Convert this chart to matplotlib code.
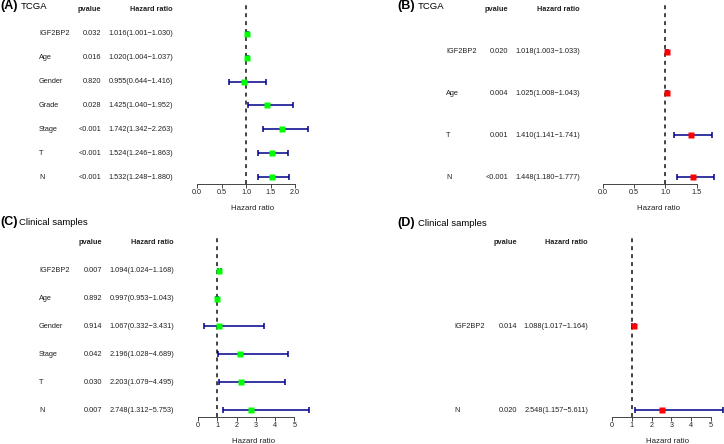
import matplotlib
matplotlib.use('Agg')
import matplotlib.pyplot as plt
import numpy as np
from matplotlib.transforms import blended_transform_factory
from matplotlib.ticker import FormatStrFormatter

plt.rcParams['font.family'] = ['Liberation Sans', 'DejaVu Sans']

# (A) TCGA, multivariate set 1
a_labels = ['IGF2BP2', 'Age', 'Gender', 'Grade', 'Stage', 'T', 'N']
a_pvalue = ['0.032', '0.016', '0.820', '0.028', '<0.001', '<0.001', '<0.001']
a_hr = [1.016, 1.020, 0.955, 1.425, 1.742, 1.524, 1.532]
a_low = [1.001, 1.004, 0.644, 1.040, 1.342, 1.246, 1.248]
a_high = [1.030, 1.037, 1.416, 1.952, 2.263, 1.863, 1.880]

# (B) TCGA
b_labels = ['IGF2BP2', 'Age', 'T', 'N']
b_pvalue = ['0.020', '0.004', '0.001', '<0.001']
b_hr = [1.018, 1.025, 1.410, 1.448]
b_low = [1.003, 1.008, 1.141, 1.180]
b_high = [1.033, 1.043, 1.741, 1.777]

# (C) Clinical samples
c_labels = ['IGF2BP2', 'Age', 'Gender', 'Stage', 'T', 'N']
c_pvalue = ['0.007', '0.892', '0.914', '0.042', '0.030', '0.007']
c_hr = [1.094, 0.997, 1.067, 2.196, 2.203, 2.748]
c_low = [1.024, 0.953, 0.332, 1.028, 1.079, 1.312]
c_high = [1.168, 1.043, 3.431, 4.689, 4.495, 5.753]

# (D) Clinical samples
d_labels = ['IGF2BP2', 'N']
d_pvalue = ['0.014', '0.020']
d_hr = [1.088, 2.548]
d_low = [1.017, 1.157]
d_high = [1.164, 5.611]

W, H = 724, 444


def fx(x):
    return x / W


def fy(y):
    return 1 - y / H


# layout in pixels of the reference
panels = [
    dict(tag='(A)', name='TCGA', labels=a_labels, pv=a_pvalue, hr=a_hr, low=a_low, high=a_high,
         color='#00ff00', tx=0, nx=21, base=9, lab_x=39, p_x=101, hr_x=173,
         left=197, top=3, bottom=184, step=0.5, fmt='%.1f'),
    dict(tag='(B)', name='TCGA', labels=b_labels, pv=b_pvalue, hr=b_hr, low=b_low, high=b_high,
         color='#ff0000', tx=397, nx=418, base=9, lab_x=446, p_x=508, hr_x=580,
         left=603, top=3, bottom=184, step=0.5, fmt='%.1f'),
    dict(tag='(C)', name='Clinical samples', labels=c_labels, pv=c_pvalue, hr=c_hr, low=c_low, high=c_high,
         color='#00ff00', tx=0, nx=19, base=225, lab_x=39, p_x=102, hr_x=174,
         left=198, top=236, bottom=417, step=1, fmt='%d'),
    dict(tag='(D)', name='Clinical samples', labels=d_labels, pv=d_pvalue, hr=d_hr, low=d_low, high=d_high,
         color='#ff0000', tx=397, nx=418, base=226, lab_x=454, p_x=517, hr_x=588,
         left=612, top=236, bottom=417, step=1, fmt='%d'),
]

fig = plt.figure(figsize=(W / 100, H / 100), dpi=100)
plot_w = 111
axis_col = '#444444'

for p in panels:
    hr = np.array(p['hr'])
    low = np.array(p['low'])
    high = np.array(p['high'])
    n = len(hr)
    ys = np.arange(n, 0, -1)

    height = p['bottom'] - p['top']
    ax = fig.add_axes([fx(p['left']), fy(p['bottom']), plot_w / W, height / H])
    ax.patch.set_visible(False)
    ax.set_xlim(0, high.max())
    ax.set_ylim(1 - 0.04 * n, n + 1 + 0.04 * n)

    # reference line at HR = 1
    ax.axvline(1, color='#111111', lw=1.1, ls=(0, (2.6, 2.6)), zorder=1)
    ax.errorbar(hr, ys, xerr=[hr - low, high - hr], fmt='none', ecolor='#00008b',
                elinewidth=1.1, capsize=1.9, capthick=1.1, clip_on=False, zorder=2)
    ax.plot(hr, ys, 's', color=p['color'], ms=3.8, mec='none', clip_on=False, zorder=3)

    ticks = np.arange(0, high.max() + 1e-9, p['step'])
    ax.set_xticks(ticks)
    ax.xaxis.set_major_formatter(FormatStrFormatter(p['fmt']))
    ax.set_yticks([])
    for s in ['top', 'right', 'left']:
        ax.spines[s].set_visible(False)
    ax.spines['bottom'].set_bounds(0, ticks[-1])
    ax.spines['bottom'].set_color(axis_col)
    ax.spines['bottom'].set_linewidth(0.7)
    ax.tick_params(axis='x', length=2.9, width=0.7, color=axis_col,
                   labelsize=5.2, pad=1, labelcolor='#222222')
    ax.set_xlabel('Hazard ratio', fontsize=5.7, color='#222222')
    ax.xaxis.set_label_coords(0.5, -24 / height)
    ax.xaxis.label.set_va('center')

    # table on the left
    tr = blended_transform_factory(fig.transFigure, ax.transData)
    txt = dict(transform=tr, fontsize=5.3, va='center', color='#222222')
    fig.text(fx(p['p_x']), n + 1, 'pvalue', ha='right', weight='bold', **txt)
    fig.text(fx(p['hr_x']), n + 1, 'Hazard ratio', ha='right', weight='bold', **txt)
    for i in range(n):
        fig.text(fx(p['lab_x']), ys[i], p['labels'][i], ha='left', **txt)
        fig.text(fx(p['p_x']), ys[i], p['pv'][i], ha='right', **txt)
        fig.text(fx(p['hr_x']), ys[i], '%.3f(%.3f\u2212%.3f)' % (hr[i], low[i], high[i]),
                 ha='right', **txt)

    fig.text(fx(p['tx']), fy(p['base']), p['tag'], weight='bold', fontsize=9, va='baseline')
    fig.text(fx(p['nx']), fy(p['base']), p['name'], fontsize=6.8, va='baseline')

fig.savefig('out.png', dpi=100)
